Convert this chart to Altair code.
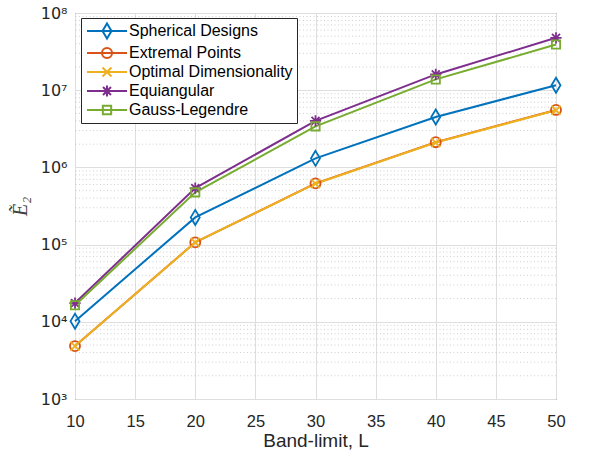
import altair as alt
import pandas as pd

# ---- data ----
L = [10, 20, 30, 40, 50]
series_names = ["Spherical Designs", "Extremal Points", "Optimal Dimensionality",
                "Equiangular", "Gauss-Legendre"]
spherical = [1.02e4, 2.25e5, 1.31e6, 4.5e6, 1.16e7]
extremal = [4.85e3, 1.07e5, 6.2e5, 2.12e6, 5.55e6]
optimal = [4.85e3, 1.07e5, 6.15e5, 2.1e6, 5.5e6]
equiangular = [1.75e4, 5.4e5, 4.0e6, 1.6e7, 4.77e7]
gauss = [1.64e4, 4.75e5, 3.4e6, 1.38e7, 3.9e7]
colors = ["#0072BD", "#D95319", "#EDB120", "#7E2F8E", "#77AC30"]

x_ticks = [10, 15, 20, 25, 30, 35, 40, 45, 50]
y_major = [1e3, 1e4, 1e5, 1e6, 1e7, 1e8]
y_labels = ["10³", "10⁴", "10⁵", "10⁶", "10⁷", "10⁸"]
y_minor = [k * 10 ** e for e in range(3, 8) for k in range(2, 10)]

# marker shapes (unit box) for the plot
m_diamond = "M0,-1L0.6,0L0,1L-0.6,0Z"
m_circle = "M0.67,0A0.67,0.67,0,1,1,-0.67,0A0.67,0.67,0,1,1,0.67,0Z"
m_x = "M-0.6,-0.6L0.6,0.6M-0.6,0.6L0.6,-0.6"
m_star = "M-0.75,0L0.75,0M0,-0.75L0,0.75M-0.53,-0.53L0.53,0.53M-0.53,0.53L0.53,-0.53"
m_square = "M-0.55,-0.55L0.55,-0.55L0.55,0.55L-0.55,0.55Z"
plot_shapes = [m_diamond, m_circle, m_x, m_star, m_square]

# legend symbols: a line segment with the marker on it
seg = "M-2.5,0L2.5,0"
leg_shapes = [
    seg + "M0,-0.94L0.56,0L0,0.94L-0.56,0Z",
    seg + "M0.63,0A0.63,0.63,0,1,1,-0.63,0A0.63,0.63,0,1,1,0.63,0Z",
    seg + "M-0.56,-0.56L0.56,0.56M-0.56,0.56L0.56,-0.56",
    seg + "M-0.7,0L0.7,0M0,-0.7L0,0.7M-0.5,-0.5L0.5,0.5M-0.5,0.5L0.5,-0.5",
    seg + "M-0.52,-0.52L0.52,-0.52L0.52,0.52L-0.52,0.52Z",
]

rows = []
for name, vals in zip(series_names, [spherical, extremal, optimal, equiangular, gauss]):
    for l, v in zip(L, vals):
        rows.append({"L": l, "E": v, "series": name, "series_leg": name})
df = pd.DataFrame(rows)
minor_df = pd.DataFrame({"E": y_minor})

FONT = "Liberation Sans"
TXT = "#262626"

label_expr = " : ".join(
    f"datum.value == {v} ? '{t}'" for v, t in zip(y_major, y_labels)
) + " : ''"

x_enc = alt.X("L:Q",
              scale=alt.Scale(domain=[10, 50], nice=False),
              axis=alt.Axis(values=x_ticks, title="Band-limit, L", format="d",
                            grid=True, gridColor="#dedede", gridWidth=1,
                            domain=False, ticks=False, labelFlush=False,
                            labelOverlap=False,
                            labelFont=FONT, labelFontSize=16.5, labelColor=TXT,
                            labelPadding=14,
                            titleFont=FONT, titleFontSize=19, titleFontWeight="normal",
                            titleColor=TXT, titlePadding=2))
y_scale = alt.Scale(type="log", domain=[1e3, 1e8], nice=False)
y_axis = alt.Axis(values=y_major, labelExpr=label_expr,
                  title="Ẽ₂", grid=True, gridColor="#dedede", gridWidth=1,
                  domain=False, ticks=False, labelFlush=False, labelOverlap=False,
                  labelFont="DejaVu Sans", labelFontSize=16, labelColor=TXT,
                  labelPadding=8,
                  titleFont="Liberation Serif", titleFontStyle="italic",
                  titleFontSize=20, titleFontWeight="normal",
                  titleColor="#404040", titlePadding=10)
y_enc = alt.Y("E:Q", scale=y_scale, axis=y_axis)

color_plot = alt.Color("series:N", scale=alt.Scale(domain=series_names, range=colors),
                       legend=None)

minor = alt.Chart(minor_df).mark_rule(
    color="#c4c4c4", strokeDash=[1, 2.5], strokeWidth=0.8
).encode(y=y_enc)

lines = alt.Chart(df).mark_line(strokeWidth=2).encode(
    x=x_enc, y=y_enc, color=color_plot, detail="series:N",
    order=alt.Order("L:Q"))

points = alt.Chart(df).mark_point(filled=False, size=225, strokeWidth=1.8, opacity=1).encode(
    x=x_enc, y=y_enc, color=color_plot,
    shape=alt.Shape("series:N", scale=alt.Scale(domain=series_names, range=plot_shapes),
                    legend=None))

legend_layer = alt.Chart(df).transform_filter("datum.L < 0").mark_point(
    filled=False, size=256, strokeWidth=2, opacity=1
).encode(
    x=x_enc, y=y_enc,
    color=alt.Color("series_leg:N", scale=alt.Scale(domain=series_names, range=colors),
                    legend=alt.Legend(title=None)),
    shape=alt.Shape("series_leg:N",
                    scale=alt.Scale(domain=series_names, range=leg_shapes),
                    legend=alt.Legend(
                        title=None, orient="none", legendX=6, legendY=5,
                        fillColor="white", strokeColor=TXT, padding=4,
                        labelFont=FONT, labelFontSize=16, labelColor="#000000",
                        labelLimit=400,
                        symbolOffset=13, labelOffset=13, rowPadding=0,
                        symbolSize=256, symbolStrokeWidth=2, cornerRadius=0)),
)

chart = alt.layer(minor, lines, points, legend_layer).resolve_scale(
    shape="independent", color="independent"
).properties(
    width=481, height=386,
    padding={"left": 75, "top": 13, "right": 36, "bottom": 57},
    autosize=alt.AutoSizeParams(type="none"),
    background="white",
).configure_view(stroke=TXT, strokeWidth=1)

chart.save("out.html", embed_options={"renderer": "svg", "actions": False})
